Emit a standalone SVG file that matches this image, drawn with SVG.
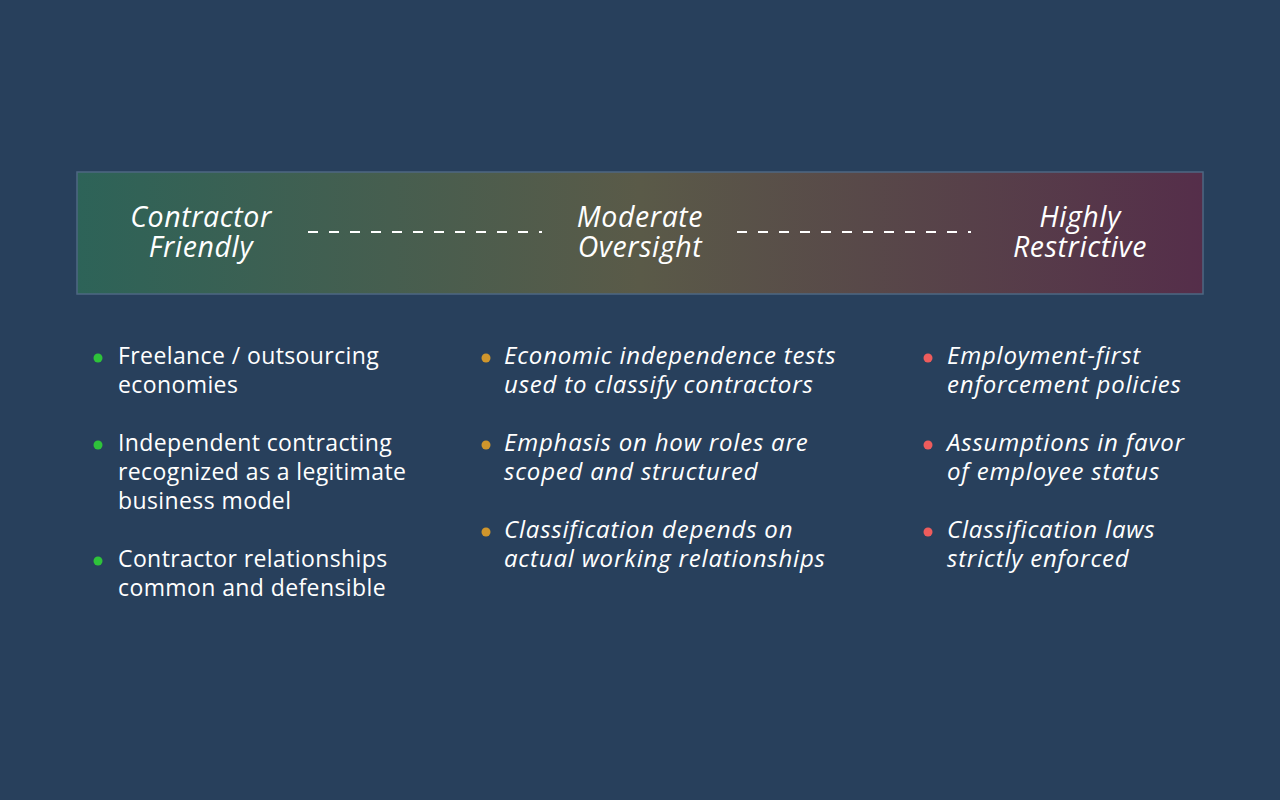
<svg xmlns="http://www.w3.org/2000/svg" width="1280" height="800" viewBox="0 0 1280 800">
<style>
.h{font-family:"Open Sans",Lato,sans-serif;font-style:italic;font-size:28.5px;letter-spacing:0.6px;fill:#fff;text-anchor:middle}
.b{font-family:"Open Sans",Lato,sans-serif;font-size:23px;letter-spacing:0.4px;fill:#fff}
.i{font-style:italic;font-size:24px;letter-spacing:0.8px}
.d{stroke:#fff;stroke-width:2;stroke-dasharray:10 11}
</style>
<defs><linearGradient id="g" x1="0" x2="1" y1="0" y2="0">
<stop offset="0" stop-color="#2d6358"/><stop offset="0.5" stop-color="#5a5a48"/><stop offset="1" stop-color="#552e4a"/></linearGradient></defs>
<rect width="1280" height="800" fill="#28405c"/>
<g id="bar"><rect x="77" y="172" width="1126" height="122" fill="url(#g)" stroke="#4d6782" stroke-width="1.5"/></g>
<g id="connectors"><line class="d" x1="308" y1="232" x2="542" y2="232"/><line class="d" x1="737" y1="232" x2="971" y2="232"/></g>
<g id="n1"><text class="h" x="201" y="227">Contractor</text><text class="h" x="201" y="257">Friendly</text></g>
<g id="n2"><text class="h" x="640" y="227">Moderate</text><text class="h" x="640" y="257">Oversight</text></g>
<g id="n3"><text class="h" x="1080" y="227">Highly</text><text class="h" x="1080" y="257">Restrictive</text></g>
<g id="col1">
<circle cx="98" cy="358" r="4.5" fill="#2ec33a"/><circle cx="98" cy="445" r="4.5" fill="#2ec33a"/><circle cx="98" cy="561" r="4.5" fill="#2ec33a"/>
<text class="b" x="118" y="364">Freelance / outsourcing</text><text class="b" x="118" y="393">economies</text>
<text class="b" x="118" y="451">Independent contracting</text><text class="b" x="118" y="480">recognized as a legitimate</text><text class="b" x="118" y="509">business model</text>
<text class="b" x="118" y="567">Contractor relationships</text><text class="b" x="118" y="596">common and defensible</text>
</g>
<g id="col2">
<circle cx="486" cy="358" r="4.5" fill="#d0962c"/><circle cx="486" cy="445" r="4.5" fill="#d0962c"/><circle cx="486" cy="532" r="4.5" fill="#d0962c"/>
<text class="b i" x="504" y="364">Economic independence tests</text><text class="b i" x="504" y="393">used to classify contractors</text>
<text class="b i" x="504" y="451">Emphasis on how roles are</text><text class="b i" x="504" y="480">scoped and structured</text>
<text class="b i" x="504" y="538">Classification depends on</text><text class="b i" x="504" y="567">actual working relationships</text>
</g>
<g id="col3">
<circle cx="928" cy="358" r="4.5" fill="#ee5c5c"/><circle cx="928" cy="445" r="4.5" fill="#ee5c5c"/><circle cx="928" cy="532" r="4.5" fill="#ee5c5c"/>
<text class="b i" x="947" y="364">Employment-first</text><text class="b i" x="947" y="393">enforcement policies</text>
<text class="b i" x="947" y="451">Assumptions in favor</text><text class="b i" x="947" y="480">of employee status</text>
<text class="b i" x="947" y="538">Classification laws</text><text class="b i" x="947" y="567">strictly enforced</text>
</g>
</svg>
